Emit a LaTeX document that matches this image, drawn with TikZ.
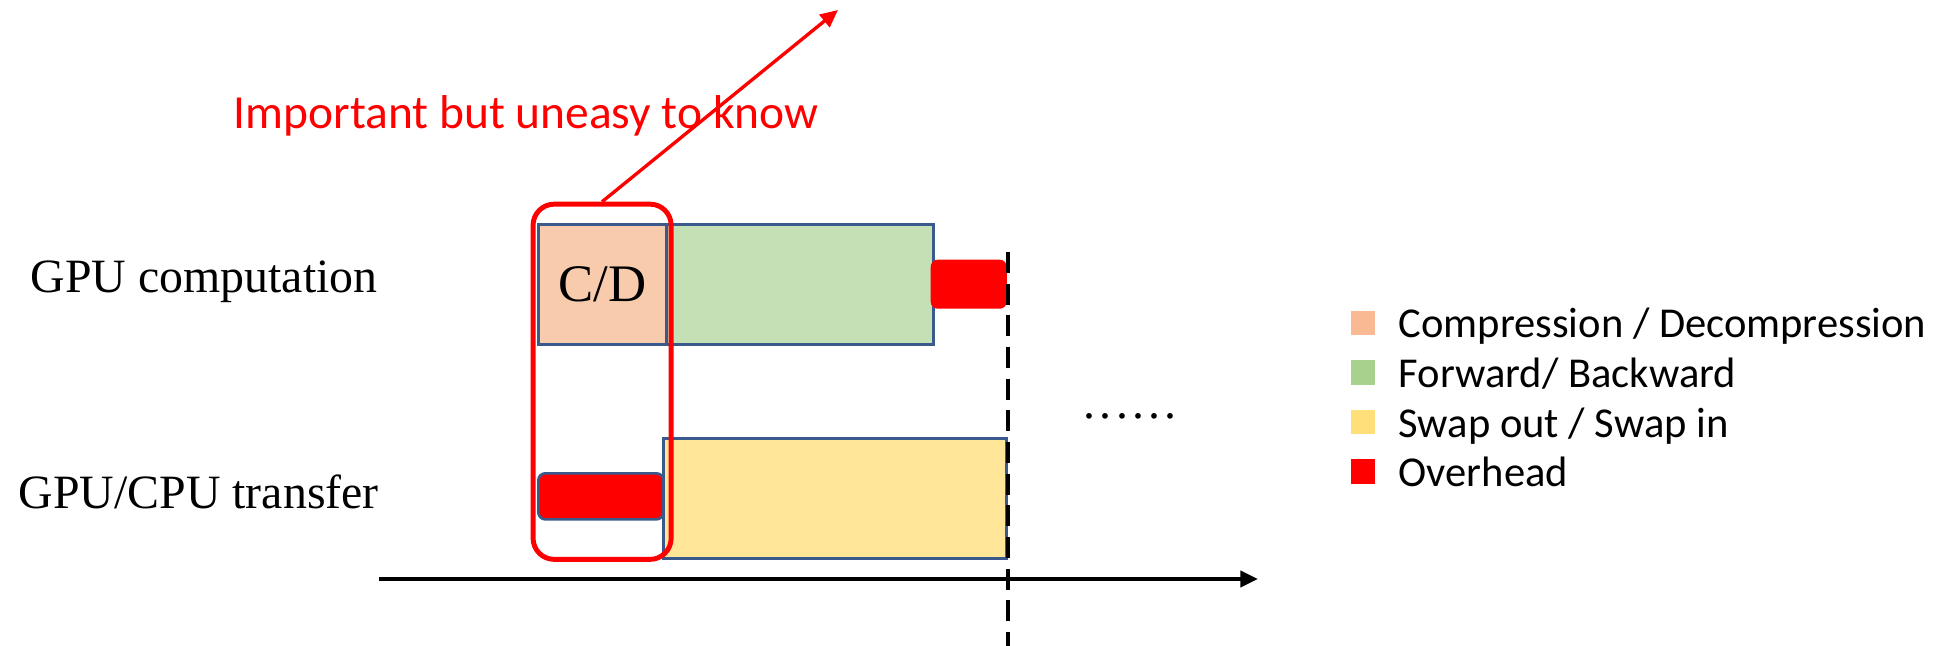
\documentclass[tikz,border=0pt]{standalone}
\usepackage{fontspec}
\setmainfont{Liberation Serif}
\newfontfamily\calfont{Carlito}
\usetikzlibrary{arrows.meta}
\definecolor{peach}{HTML}{F8CBAD}
\definecolor{fgreen}{HTML}{C5E0B4}
\definecolor{fyellow}{HTML}{FFE699}
\definecolor{outl}{HTML}{3A5A8E}
\definecolor{lpeach}{HTML}{F8B993}
\definecolor{lgreen}{HTML}{A9D18E}
\definecolor{lyellow}{HTML}{FFDF79}
\definecolor{ovred}{HTML}{FF0000}
\tikzset{
  seg/.style={rectangle, draw=outl, line width=0.75pt, anchor=north west, inner sep=0pt},
  ovh/.style={rectangle, fill=ovred, rounded corners=2pt, anchor=north west, inner sep=0pt},
  lbl/.style={anchor=base west, inner sep=0pt, font=\fontsize{13.6}{16}\selectfont},
  legtxt/.style={anchor=base west, inner sep=0pt, font=\calfont\fontsize{12.1}{14}\selectfont},
  legsq/.style={rectangle, minimum size=0.24cm, inner sep=0pt},
  tipA/.style={-{Triangle[length=5pt,width=4.5pt]}}
}
\begin{document}
\begin{tikzpicture}[x=0.01cm,y=-0.01cm]
\useasboundingbox (0,0) rectangle (1934,646);
% row labels
\node[lbl] (gc) at (30,293) {GPU computation};
\node[lbl] (gt) at (18,508) {GPU/CPU transfer};
% GPU computation row
\node[seg, fill=peach, minimum width=1.28cm, minimum height=1.2cm, font=\fontsize{15}{18}\selectfont] (cd) at (537,223) {C/D};
\node[seg, fill=fgreen, minimum width=2.67cm, minimum height=1.2cm] (fb) at (665,223) {};
\node[ovh, minimum width=0.76cm, minimum height=0.49cm] (ov1) at (930,259) {};
% transfer row
\node[seg, fill=fyellow, minimum width=3.43cm, minimum height=1.2cm] (sw) at (662,437) {};
\node[ovh, draw=outl, line width=0.75pt, minimum width=1.25cm, minimum height=0.46cm] (ov2) at (537,472) {};
% highlight box
\node[rectangle, draw=ovred, line width=1.4pt, rounded corners=6pt, anchor=north west, inner sep=0pt, minimum width=1.38cm, minimum height=3.55cm] (rbox) at (530.6,201.7) {};
% annotation
\node[anchor=base west, inner sep=0pt, text=ovred, font=\calfont\fontsize{13.5}{16}\selectfont] (imp) at (233,129) {Important but uneasy to know};
\coordinate (tip) at (838,10);
\draw[ovred, line width=0.95pt, tipA] (rbox.north) -- (tip);
% time axis
\coordinate (ax0) at (379,579);
\coordinate (ax1) at (1258,579);
\draw[line width=1.15pt, tipA] (ax0) -- (ax1);
% dashed boundary
\coordinate (d0) at (1008,252);
\coordinate (d1) at (1008,646);
\draw[line width=1.1pt, dash pattern=on 6pt off 3pt] (d0) -- (d1);
% dots
\node[lbl] (dots) at (1083,418) {.\kern1.2pt.\kern1.2pt.\kern1.2pt.\kern1.2pt.\kern1.2pt.};
% legend
\node[legsq, fill=lpeach] (s1) at (1362.5,323) {};
\node[legsq, fill=lgreen] (s2) at (1362.5,372.5) {};
\node[legsq, fill=lyellow] (s3) at (1362.5,422) {};
\node[legsq, fill=ovred] (s4) at (1362.5,471.5) {};
\node[legtxt] (t1) at (1398,338) {Compression / Decompression};
\node[legtxt] (t2) at (1398,387.5) {Forward/ Backward};
\node[legtxt] (t3) at (1398,437) {Swap out / Swap in};
\node[legtxt] (t4) at (1398,486.5) {Overhead};
\end{tikzpicture}
\end{document}
